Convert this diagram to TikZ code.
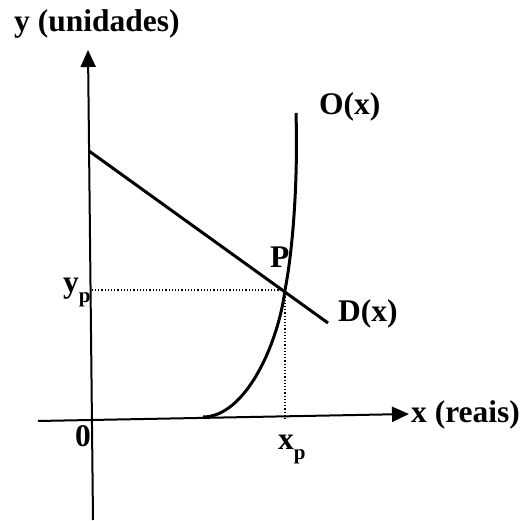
\documentclass[tikz,border=0pt]{standalone}
\usepackage{fontspec}
\setmainfont{Liberation Serif}
\usepackage{tikz}
\usetikzlibrary{positioning,arrows.meta,calc}

\newcommand{\subp}{\raisebox{-0.3em}{\fontsize{21}{21}\selectfont p}}
\tikzset{
  axe/.style={line width=2pt, -{Triangle[length=17pt,width=15pt]}},
  courbe/.style={line width=3pt},
  repere/.style={line width=1.2pt, dotted},
  etiq/.style={anchor=base west, inner sep=0pt, font=\fontsize{31.5}{36}\selectfont\bfseries}
}

\begin{document}
\begin{tikzpicture}[x=1pt, y=1pt]
  \useasboundingbox (0,0) rectangle (524,521);

  % Axes
  \coordinate (ybas) at (93,1);
  \coordinate (yhaut) at (88,471);
  \coordinate (xgauche) at (38,100);
  \coordinate (xdroite) at (409,107);
  \draw[axe] (ybas) -- (yhaut);
  \draw[axe] (xgauche) -- (xdroite);

  % Point d'equilibre et reperes
  \coordinate (P) at (285,231);
  \coordinate (yp) at (91,231);
  \coordinate (xp) at (285,101);
  \draw[repere] (P) -- (yp);
  \draw[repere] (P) -- (xp);

  % Droite D(x)
  \coordinate (D0) at (89,370);
  \coordinate (D1) at (328,198);
  \draw[courbe] (D0) -- (D1);

  % Courbe O(x)
  \coordinate (O0) at (203,104);
  \coordinate (O1) at (296,408);
  \draw[courbe] (O0) .. controls (245,104) and (278,176) .. (P)
                     .. controls (293,272) and (298,340) .. (O1);

  % Etiquettes
  \node[etiq] (ylab) at (14,489) {y (unidades)};
  \node[etiq] (xlab) at (411,98) {x (reais)};
  \node[etiq] (Olab) at (319,406) {O(x)};
  \node[etiq] (Dlab) at (338,199) {D(x)};
  \node[etiq] (Plab) at (270,253) {P};
  \node[etiq] (zero) at (75,74) {0};
  \node[etiq] (yplab) at (63,228) {y\subp};
  \node[etiq] (xplab) at (278,71) {x\subp};
\end{tikzpicture}
\end{document}
